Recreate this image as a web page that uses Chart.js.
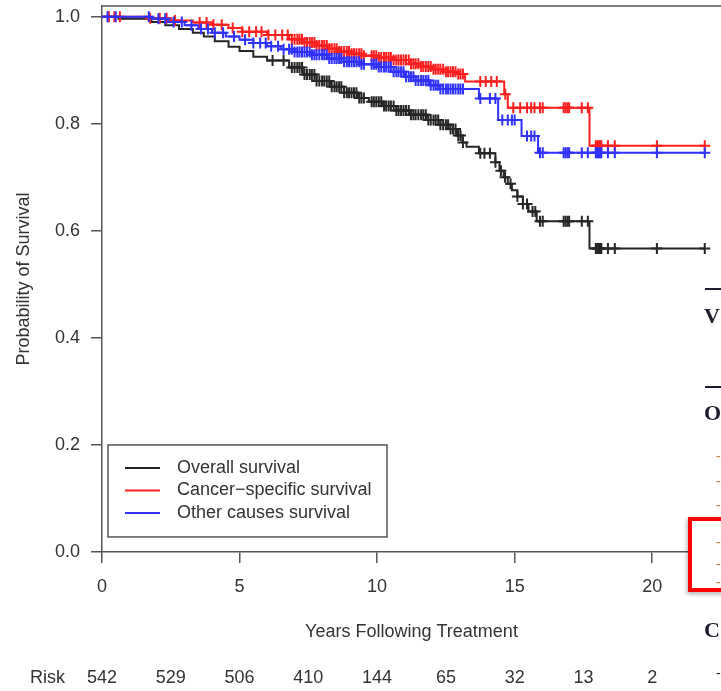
<!DOCTYPE html>
<html>
<head>
<meta charset="utf-8">
<title>Survival curves</title>
<script src="https://cdn.jsdelivr.net/npm/chart.js@4.4.0/dist/chart.umd.min.js"></script>
<style>
  html, body { margin: 0; padding: 0; background: #fff; }
  #wrap { position: relative; width: 721px; height: 691px; }
</style>
</head>
<body>
<div id="wrap"><canvas id="graphic1"></canvas></div>
<script>
// Kaplan-Meier steps: time of each drop (years) and survival after it
const overallTimes = [0, 0.6, 1.8, 2.3, 2.8, 3.3, 3.7, 4.1, 4.6, 5.0, 5.5, 6.0, 6.8, 7.3, 7.8, 8.3, 8.8, 9.3, 9.7, 10.2, 10.7, 11.2, 11.8, 12.3, 12.6, 12.9, 13.1, 13.25, 13.7, 14.3, 14.45, 14.6, 14.75, 14.9, 15.1, 15.3, 15.5, 15.8, 17.72];
const overallSurv = [1.0, 0.996, 0.99, 0.984, 0.977, 0.97, 0.963, 0.954, 0.944, 0.936, 0.925, 0.918, 0.905, 0.892, 0.88, 0.869, 0.858, 0.848, 0.841, 0.833, 0.825, 0.817, 0.807, 0.798, 0.79, 0.778, 0.765, 0.757, 0.745, 0.728, 0.712, 0.7, 0.688, 0.676, 0.664, 0.65, 0.636, 0.618, 0.567];

const cancerTimes = [0, 1.6, 2.4, 3.3, 4.0, 4.6, 5.1, 6.0, 6.8, 7.3, 7.8, 8.2, 8.6, 9.0, 9.5, 10.0, 10.6, 11.2, 11.6, 12.0, 12.5, 12.9, 13.2, 14.62, 14.75, 17.72];
const cancerSurv = [1.0, 0.997, 0.993, 0.989, 0.985, 0.979, 0.972, 0.966, 0.958, 0.952, 0.946, 0.94, 0.935, 0.931, 0.927, 0.924, 0.919, 0.912, 0.907, 0.902, 0.897, 0.893, 0.879, 0.855, 0.83, 0.759];

const otherTimes = [0, 1.8, 2.4, 3.0, 3.5, 4.0, 4.5, 5.0, 5.5, 6.0, 6.5, 7.0, 7.6, 8.2, 8.8, 9.4, 10.0, 10.6, 11.0, 11.4, 11.9, 12.3, 13.7, 14.4, 15.25, 15.85];
const otherSurv = [1.0, 0.996, 0.99, 0.984, 0.977, 0.97, 0.963, 0.957, 0.951, 0.945, 0.939, 0.934, 0.929, 0.922, 0.916, 0.911, 0.906, 0.897, 0.888, 0.881, 0.872, 0.865, 0.847, 0.807, 0.777, 0.746];

// censored follow-up times, drawn as + marks on each curve
const bandCensor = [6.9, 7.0, 7.1, 7.18, 7.27, 7.36, 7.45, 7.55, 7.63, 7.72, 7.8, 7.9, 8.0, 8.08, 8.17, 8.26, 8.35, 8.45, 8.53, 8.62, 8.7, 8.8, 8.9, 8.98, 9.07, 9.16, 9.25, 9.35, 9.43, 9.52, 9.8, 9.88, 9.97, 10.06, 10.15, 10.25, 10.33, 10.42, 10.5, 10.6, 10.7, 10.78, 10.87, 10.96, 11.05, 11.15, 11.23, 11.32, 11.4, 11.5, 11.6, 11.68, 11.77, 11.86, 11.95, 12.05, 12.13, 12.22, 12.3, 12.4, 12.5, 12.58, 12.67, 12.76, 12.85, 12.95, 13.03, 13.12];
const tailCensor = [15.92, 16.02, 16.78, 16.85, 16.92, 16.98, 17.44, 17.66, 17.95, 18.0, 18.05, 18.1, 18.15, 18.39, 18.64, 20.17, 21.91];

const overallCensor = [6.2, 6.6, 13.75, 13.9, 14.1, 14.3, 14.5, 14.65, 14.85, 15.1, 15.3, 15.45, 15.65, 15.75];
const cancerCensor = [0.25, 0.45, 0.65, 1.75, 2.1, 2.35, 2.65, 3.55, 3.8, 4.05, 4.35, 4.75, 5.1, 5.35, 5.6, 5.8, 6.05, 6.3, 6.55, 6.75, 13.75, 13.95, 14.15, 14.35, 14.66, 14.95, 15.2, 15.45, 15.6, 15.72];
const otherCensor = [0.2, 0.5, 1.7, 2.05, 2.3, 2.6, 2.9, 3.25, 3.6, 3.85, 4.1, 4.4, 4.8, 5.2, 5.5, 5.75, 5.95, 6.15, 6.4, 6.6, 6.8, 13.75, 14.1, 14.3, 14.55, 14.75, 14.9, 15.0, 15.45, 15.6, 15.72];

const lastFollowUp = 21.91;

// number at risk under the x axis
const riskTimes = [0, 2.5, 5, 7.5, 10, 12.5, 15, 17.5, 20];
const riskCounts = [542, 529, 506, 410, 144, 65, 32, 13, 2];

const xTicks = [0, 5, 10, 15, 20];
const yTicks = [0, 0.2, 0.4, 0.6, 0.8, 1.0];

const FONT = '"Liberation Sans", Arial, Helvetica, sans-serif';
const TXT = '#333';
const AXIS = '#555';

function stepData(times, surv) {
  const pts = times.map((t, i) => ({ x: t, y: surv[i] }));
  pts.push({ x: lastFollowUp, y: surv[surv.length - 1] });
  return pts;
}

// value of the step curve at time t
function survAt(times, surv, t) {
  let s = surv[0];
  for (let i = 0; i < times.length; i++) {
    if (times[i] <= t) s = surv[i];
  }
  return s;
}

function censorData(censor, times, surv) {
  const all = censor.concat(bandCensor, tailCensor);
  return all.map(t => ({ x: t, y: survAt(times, surv, t) }));
}

const curves = [
  { label: 'Overall survival', color: '#262626', times: overallTimes, surv: overallSurv, censor: overallCensor, order: 3 },
  { label: 'Cancer\u2212specific survival', color: '#ff1f1f', times: cancerTimes, surv: cancerSurv, censor: cancerCensor, order: 2 },
  { label: 'Other causes survival', color: '#3030ff', times: otherTimes, surv: otherSurv, censor: otherCensor, order: 1 }
];

const datasets = [];
curves.forEach(c => {
  datasets.push({
    label: c.label,
    data: stepData(c.times, c.surv),
    borderColor: c.color,
    borderWidth: 2,
    stepped: 'before',
    pointRadius: 0,
    fill: false,
    order: c.order
  });
  datasets.push({
    label: c.label + ' censored',
    data: censorData(c.censor, c.times, c.surv),
    showLine: false,
    pointStyle: 'cross',
    pointRadius: 5.5,
    pointBorderWidth: 2,
    pointBorderColor: c.color,
    pointBackgroundColor: c.color,
    order: c.order
  });
});

// box top, R style legend, risk table and the neighbouring page margin
const extras = {
  id: 'extras',
  beforeDatasetsDraw(chart) {
    const { ctx, chartArea } = chart;
    ctx.save();
    ctx.strokeStyle = AXIS;
    ctx.lineWidth = 1.5;
    ctx.beginPath();
    ctx.moveTo(chartArea.left, chartArea.top);
    ctx.lineTo(chartArea.right, chartArea.top);
    ctx.stroke();
    ctx.restore();
  },
  afterDraw(chart) {
    const { ctx, chartArea } = chart;
    const xs = chart.scales.x;
    const ys = chart.scales.y;
    ctx.save();

    // legend
    const bx = chartArea.left + 6;
    const by = ys.getPixelForValue(0.2);
    ctx.strokeStyle = AXIS;
    ctx.lineWidth = 1.5;
    ctx.strokeRect(bx, by, 279, 92);
    ctx.font = '18px ' + FONT;
    ctx.textBaseline = 'middle';
    ctx.textAlign = 'left';
    curves.forEach((c, i) => {
      const ly = by + 23 + i * 22.5;
      ctx.strokeStyle = c.color;
      ctx.lineWidth = 2;
      ctx.beginPath();
      ctx.moveTo(bx + 17, ly);
      ctx.lineTo(bx + 52, ly);
      ctx.stroke();
      ctx.fillStyle = TXT;
      ctx.fillText(c.label, bx + 69, ly);
    });

    // number at risk
    ctx.fillStyle = TXT;
    ctx.fillText('Risk', 30, 678);
    ctx.textAlign = 'center';
    riskTimes.forEach((t, i) => {
      ctx.fillText(String(riskCounts[i]), xs.getPixelForValue(t), 678);
    });

    // edge of the facing page
    ctx.fillStyle = '#1c1c2c';
    ctx.fillRect(705, 288, 16, 2);
    ctx.fillRect(705, 386, 16, 2);
    ctx.font = 'bold 22px "Liberation Serif", "Times New Roman", serif';
    ctx.textAlign = 'left';
    ctx.fillText('V', 704, 317);
    ctx.fillText('O', 704, 414);
    ctx.fillText('C', 704, 631);
    ctx.font = '14px "Liberation Serif", serif';
    ctx.fillStyle = '#c07a30';
    [456, 481, 505].forEach(y => ctx.fillText('-', 716, y));
    ctx.fillStyle = '#1c1c2c';
    ctx.fillText('-', 716, 673);

    ctx.shadowColor = 'rgba(0,0,0,0.35)';
    ctx.shadowBlur = 4;
    ctx.shadowOffsetX = -1;
    ctx.shadowOffsetY = 2;
    ctx.strokeStyle = '#ff0000';
    ctx.lineWidth = 4;
    ctx.strokeRect(690, 519, 60, 71);
    ctx.shadowColor = 'transparent';
    ctx.fillStyle = '#fff';
    ctx.fillRect(692, 521, 29, 67);
    ctx.fillStyle = '#c07a30';
    ctx.font = '14px "Liberation Serif", serif';
    [542, 564, 582].forEach(y => ctx.fillText('-', 716, y));
    ctx.restore();
  }
};

const canvas = document.querySelector('#graphic1');
const ctx = canvas.getContext('2d');

Chart.defaults.font.family = FONT;
Chart.defaults.font.size = 18;
Chart.defaults.color = TXT;

const myChart = new Chart(ctx, {
  type: 'line',
  data: { datasets: datasets },
  options: {
    responsive: true,
    maintainAspectRatio: false,
    animation: false,
    layout: { autoPadding: false, padding: { top: 6, right: 0, bottom: 0, left: 0 } },
    plugins: {
      legend: { display: false },
      tooltip: { enabled: false }
    },
    scales: {
      x: {
        type: 'linear',
        min: 0,
        max: 22.5,
        afterBuildTicks: s => { s.ticks = xTicks.map(v => ({ value: v })); },
        afterFit: s => { s.height = 139; s.paddingLeft = 0; s.paddingRight = 0; },
        grid: { drawOnChartArea: false, drawTicks: true, tickLength: 11, color: AXIS, lineWidth: 1.5 },
        border: { display: true, color: AXIS, width: 1.5 },
        ticks: { color: TXT, padding: 13, maxRotation: 0, autoSkip: false, callback: v => String(v) },
        title: { display: true, text: 'Years Following Treatment', color: TXT, padding: { top: 0, bottom: 48 } }
      },
      y: {
        type: 'linear',
        min: 0,
        max: 1.02,
        afterBuildTicks: s => { s.ticks = yTicks.map(v => ({ value: v })); },
        afterFit: s => { s.width = 102; s.paddingTop = 0; s.paddingBottom = 0; },
        grid: { drawOnChartArea: false, drawTicks: true, tickLength: 11, color: AXIS, lineWidth: 1.5 },
        border: { display: true, color: AXIS, width: 1.5 },
        ticks: { color: TXT, padding: 11, autoSkip: false, callback: v => v.toFixed(1) },
        title: { display: true, text: 'Probability of Survival', color: TXT, padding: { top: 13, bottom: 0 } }
      }
    }
  },
  plugins: [extras]
});
</script>
</body>
</html>
